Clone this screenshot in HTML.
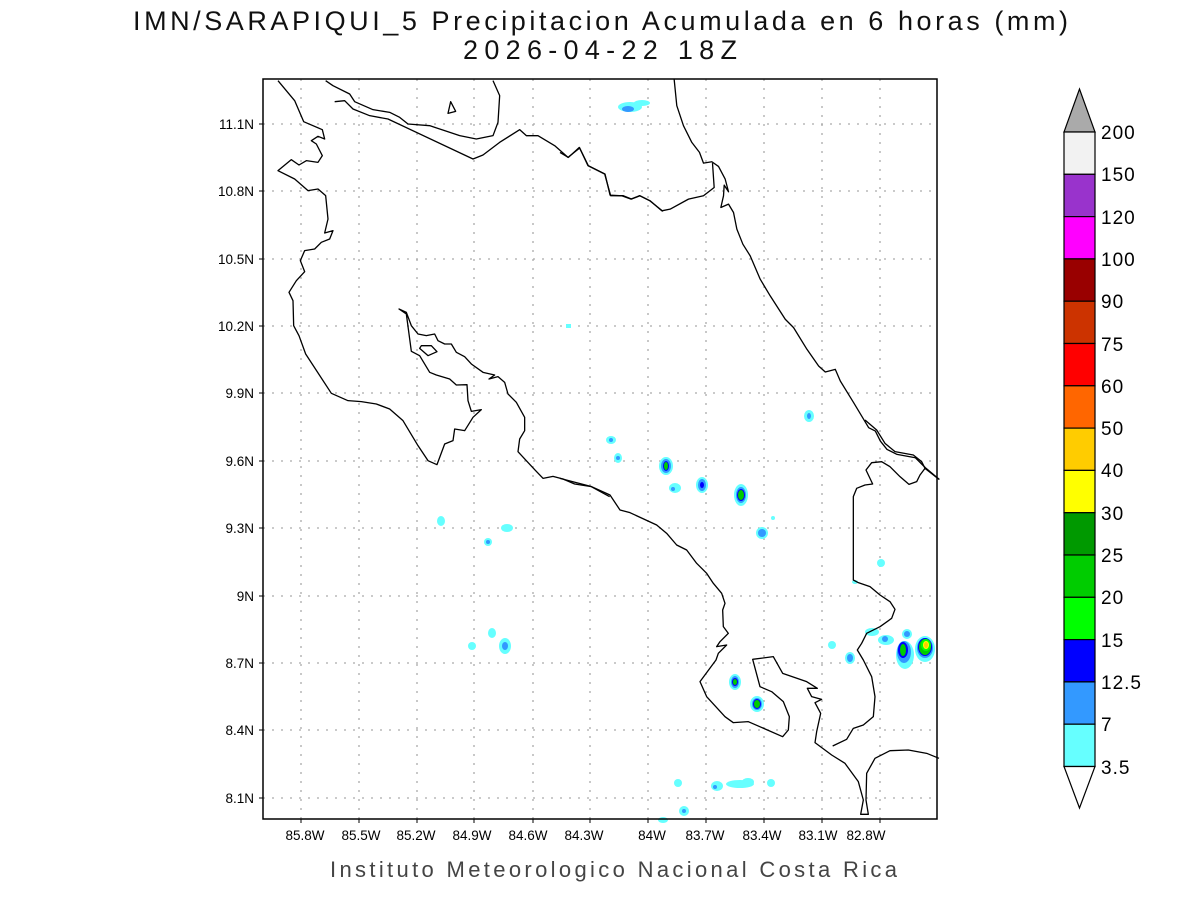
<!DOCTYPE html>
<html><head><meta charset="utf-8"><style>
html,body{margin:0;padding:0;background:#fff;}
svg{display:block;}
text{font-family:"Liberation Sans",sans-serif;}
</style></head><body>
<svg width="1200" height="900" viewBox="0 0 1200 900" xmlns="http://www.w3.org/2000/svg">
<rect width="1200" height="900" fill="#fff"/>
<text x="133" y="30" font-size="27" fill="#111" textLength="935" lengthAdjust="spacing">IMN/SARAPIQUI_5 Precipitacion Acumulada en 6 horas (mm)</text>
<text x="463" y="59" font-size="27" fill="#111" textLength="274" lengthAdjust="spacing">2026-04-22 18Z</text>

<!-- grid -->
<g stroke="#aaa" stroke-width="1.3" stroke-dasharray="2,7">
<line x1="301" y1="79" x2="301" y2="819"/><line x1="359" y1="79" x2="359" y2="819"/><line x1="417" y1="79" x2="417" y2="819"/><line x1="474" y1="79" x2="474" y2="819"/><line x1="533" y1="79" x2="533" y2="819"/><line x1="590" y1="79" x2="590" y2="819"/><line x1="648" y1="79" x2="648" y2="819"/><line x1="706" y1="79" x2="706" y2="819"/><line x1="764" y1="79" x2="764" y2="819"/><line x1="822" y1="79" x2="822" y2="819"/><line x1="880" y1="79" x2="880" y2="819"/>
<line x1="263" y1="124" x2="937" y2="124"/><line x1="263" y1="191" x2="937" y2="191"/><line x1="263" y1="259" x2="937" y2="259"/><line x1="263" y1="326" x2="937" y2="326"/><line x1="263" y1="393" x2="937" y2="393"/><line x1="263" y1="461" x2="937" y2="461"/><line x1="263" y1="528" x2="937" y2="528"/><line x1="263" y1="596" x2="937" y2="596"/><line x1="263" y1="663" x2="937" y2="663"/><line x1="263" y1="730" x2="937" y2="730"/><line x1="263" y1="798" x2="937" y2="798"/>
</g>

<!-- precipitation -->
<g>
<ellipse cx="630" cy="107" rx="12" ry="5" fill="#66ffff"/><ellipse cx="642" cy="103" rx="8" ry="3" fill="#66ffff"/><ellipse cx="628" cy="109" rx="6" ry="3" fill="#3399ff"/>
<rect x="566" y="324" width="5" height="4" fill="#66ffff"/>
<ellipse cx="611" cy="440" rx="5" ry="4" fill="#66ffff"/><ellipse cx="611" cy="440" rx="2" ry="2" fill="#3399ff"/>
<ellipse cx="618" cy="458" rx="4" ry="5" fill="#66ffff"/><ellipse cx="618" cy="458" rx="2" ry="2" fill="#3399ff"/>
<ellipse cx="666" cy="466" rx="7" ry="9" fill="#66ffff"/><ellipse cx="666" cy="466" rx="5" ry="7" fill="#3399ff"/><ellipse cx="666" cy="466" rx="3" ry="5" fill="#0000ff"/><ellipse cx="666" cy="466" rx="2" ry="4" fill="#00cc00"/>
<ellipse cx="675" cy="488" rx="6" ry="5" fill="#66ffff"/><ellipse cx="673" cy="489" rx="2" ry="2" fill="#3399ff"/>
<ellipse cx="702" cy="485" rx="6" ry="8" fill="#66ffff"/><ellipse cx="702" cy="485" rx="4" ry="6" fill="#3399ff"/><ellipse cx="702" cy="485" rx="2" ry="3" fill="#0000ff"/>
<ellipse cx="741" cy="495" rx="7" ry="11" fill="#66ffff"/><ellipse cx="741" cy="495" rx="5" ry="8" fill="#3399ff"/><ellipse cx="741" cy="495" rx="4" ry="6" fill="#0000ff"/><ellipse cx="741" cy="495" rx="3" ry="5" fill="#00cc00"/>
<ellipse cx="762" cy="533" rx="6" ry="6" fill="#66ffff"/><ellipse cx="762" cy="533" rx="4" ry="4" fill="#3399ff"/>
<ellipse cx="809" cy="416" rx="5" ry="6" fill="#66ffff"/><ellipse cx="809" cy="416" rx="2" ry="3" fill="#3399ff"/>
<ellipse cx="773" cy="518" rx="2" ry="2" fill="#66ffff"/>
<ellipse cx="441" cy="521" rx="4" ry="5" fill="#66ffff"/>
<ellipse cx="488" cy="542" rx="4" ry="4" fill="#66ffff"/><ellipse cx="488" cy="542" rx="2" ry="2" fill="#3399ff"/>
<ellipse cx="507" cy="528" rx="6" ry="4" fill="#66ffff"/>
<ellipse cx="505" cy="646" rx="6" ry="8" fill="#66ffff"/><ellipse cx="505" cy="646" rx="3" ry="4" fill="#3399ff"/>
<ellipse cx="492" cy="633" rx="4" ry="5" fill="#66ffff"/>
<ellipse cx="472" cy="646" rx="4" ry="4" fill="#66ffff"/>
<ellipse cx="735" cy="682" rx="6" ry="8" fill="#66ffff"/><ellipse cx="735" cy="682" rx="4" ry="6" fill="#3399ff"/><ellipse cx="735" cy="682" rx="3" ry="4" fill="#0000ff"/><ellipse cx="735" cy="682" rx="2" ry="3" fill="#00cc00"/>
<ellipse cx="757" cy="704" rx="7" ry="8" fill="#66ffff"/><ellipse cx="757" cy="704" rx="5" ry="6" fill="#3399ff"/><ellipse cx="757" cy="704" rx="4" ry="5" fill="#0000ff"/><ellipse cx="757" cy="704" rx="3" ry="4" fill="#00cc00"/>
<ellipse cx="832" cy="645" rx="4" ry="4" fill="#66ffff"/>
<ellipse cx="850" cy="658" rx="5" ry="6" fill="#66ffff"/><ellipse cx="850" cy="658" rx="3" ry="4" fill="#3399ff"/>
<ellipse cx="872" cy="632" rx="7" ry="4" fill="#66ffff"/>
<ellipse cx="886" cy="640" rx="8" ry="5" fill="#66ffff"/><ellipse cx="885" cy="639" rx="3" ry="3" fill="#3399ff"/>
<ellipse cx="907" cy="634" rx="5" ry="5" fill="#66ffff"/><ellipse cx="907" cy="634" rx="3" ry="3" fill="#3399ff"/>
<ellipse cx="905" cy="655" rx="9" ry="14" fill="#66ffff"/><ellipse cx="904" cy="652" rx="7" ry="11" fill="#3399ff"/><ellipse cx="903" cy="650" rx="5" ry="8" fill="#0000ff"/><ellipse cx="903" cy="650" rx="3" ry="6" fill="#00cc00"/>
<ellipse cx="925" cy="649" rx="10" ry="13" fill="#66ffff"/><ellipse cx="925" cy="648" rx="8" ry="10" fill="#3399ff"/><ellipse cx="925" cy="647" rx="7" ry="9" fill="#0000ff"/><ellipse cx="925" cy="647" rx="6" ry="8" fill="#00cc00"/><ellipse cx="926" cy="645" rx="5" ry="6" fill="#00ff00"/><ellipse cx="926" cy="645" rx="3" ry="4" fill="#ffff00"/><ellipse cx="926" cy="645" rx="2" ry="3" fill="#ffcc00"/>
<ellipse cx="881" cy="563" rx="4" ry="4" fill="#66ffff"/>
<ellipse cx="855" cy="582" rx="3" ry="2" fill="#66ffff"/>
<ellipse cx="678" cy="783" rx="4" ry="4" fill="#66ffff"/>
<ellipse cx="717" cy="786" rx="6" ry="5" fill="#66ffff"/><ellipse cx="715" cy="787" rx="2" ry="2" fill="#3399ff"/>
<ellipse cx="740" cy="784" rx="14" ry="4" fill="#66ffff"/><ellipse cx="748" cy="782" rx="6" ry="4" fill="#66ffff"/>
<ellipse cx="771" cy="783" rx="4" ry="4" fill="#66ffff"/>
<ellipse cx="684" cy="811" rx="5" ry="5" fill="#66ffff"/><ellipse cx="684" cy="811" rx="2" ry="2" fill="#3399ff"/>
<ellipse cx="663" cy="820" rx="5" ry="3" fill="#66ffff"/>
</g>

<!-- coastlines -->
<g fill="none" stroke="#000" stroke-width="1.3" stroke-linejoin="round">
<g transform="translate(263,79) scale(0.33333)">
<path vector-effect="non-scaling-stroke" d="M45,5 L95,65 L122,128 L178,152 L185,180 L165,172 L145,185 L160,195 L178,230 L165,250 L130,245 L108,258 L85,242 L45,275 L95,300 L135,335 L165,330 L188,350 L195,420 L185,462 L210,455 L200,480 L175,490 L155,510 L125,515 L112,545 L125,578 L100,605 L78,640 L90,665 L92,740 L108,770 L128,825 L205,943 L255,965 L295,968 L340,975 L380,990 L420,1025 L465,1100 L495,1145 L522,1157 L545,1095 L570,1085 L575,1050 L605,1055 L630,1015 L655,992 L625,997 L615,965 L612,917 L580,918 L560,900 L520,888 L500,880 L470,830 L445,817 L430,705 L408,690 L430,700 L445,740 L465,765 L490,770 L515,765 L525,785 L545,795 L565,795 L580,820 L605,833 L625,855 L660,880 L695,888 L678,900 L705,893 L725,910 L735,945 L760,970 L785,1015 L785,1055 L770,1080 L765,1118 L790,1145 L818,1175 L840,1198 L870,1192 L900,1200 L935,1215 L985,1223 L1040,1253"/>
<path vector-effect="non-scaling-stroke" d="M188,5 L210,20 L260,45 L275,68 L330,92 L380,100 L410,115 L435,135 L500,140 L545,155 L590,170 L640,180 L690,170 L705,130 L710,50 L690,5"/>
<path vector-effect="non-scaling-stroke" d="M215,68 L245,65 L270,90 L320,110 L375,120 L630,240 L660,228 L710,190 L770,152 L790,170 L825,170 L875,200 L915,235 L950,207 L975,260 L1025,285 L1043,350 L1080,350 L1105,360 L1130,350 L1160,365 L1200,397"/>
<path vector-effect="non-scaling-stroke" d="M555,103 L563,68 L578,97 Z"/>
<path vector-effect="non-scaling-stroke" d="M475,800 L505,800 L522,818 L495,830 L470,808 Z"/>
</g>
<g transform="translate(560,79) scale(0.3337)">
<path vector-effect="non-scaling-stroke" d="M0,220 L25,235 L58,205 L85,260 L135,285 L150,348 L185,350 L213,360 L240,350 L270,365 L305,395 L330,390 L385,360 L430,350 L462,325 L457,252"/>
<path vector-effect="non-scaling-stroke" d="M342,0 L350,80 L370,140 L395,190 L418,220 L430,252 L455,248 L475,262 L495,300 L505,338 L492,318 L490,350 L482,385 L505,375 L520,400 L530,450 L548,495 L570,530 L600,600 L630,650 L675,720 L700,745 L740,810 L775,860 L795,878 L825,870 L840,905 L880,970 L925,1045 L945,1055 L960,1085 L980,1110 L1010,1125 L1065,1135 L1095,1165 L1137,1200"/>
</g>
<g transform="translate(560,420) scale(0.33333)">
<path vector-effect="non-scaling-stroke" d="M0,175 L95,200 L150,225 L180,270 L210,278 L290,315 L320,340 L350,375 L380,390 L410,430 L440,460 L460,490 L485,520 L495,550 L488,570 L490,620 L505,640 L480,665 L470,680 L500,675 L475,700 L468,720 L420,785 L440,830 L495,890 L520,908 L565,905 L668,950 L685,930 L688,890 L670,845 L635,815 L600,800 L578,718 L640,710 L668,760 L740,785 L772,805 L742,805 L755,830 L785,838 L765,848 L782,880 L770,935 L765,968 L815,1005 L855,1030 L895,1085 L910,1140 L902,1183 L925,1183 L918,1140 L920,1060 L945,1015 L990,992 L1045,990 L1100,1000 L1137,1015"/>
<path vector-effect="non-scaling-stroke" d="M818,978 L860,958 L880,925 L910,915 L940,890 L945,830 L935,770 L910,720 L892,690 L905,670 L920,640 L960,620 L995,595 L1005,568 L990,545 L960,525 L930,500 L895,488 L880,480 L880,230 L890,205 L915,195 L938,192 L918,150 L935,128 L965,125 L990,140 L1020,170 L1047,193 L1070,185 L1080,165 L1095,145 L1137,178"/>
<path vector-effect="non-scaling-stroke" d="M915,0 L950,30 L975,70 L1005,95 L1060,105 L1085,125 L1095,145"/>
</g>
</g>

<!-- frame -->
<rect x="263" y="79" width="674" height="740" fill="none" stroke="#000" stroke-width="1.5"/>
<g stroke="#000" stroke-width="1">
<line x1="259" y1="124" x2="263" y2="124"/><line x1="259" y1="191" x2="263" y2="191"/><line x1="259" y1="259" x2="263" y2="259"/><line x1="259" y1="326" x2="263" y2="326"/><line x1="259" y1="393" x2="263" y2="393"/><line x1="259" y1="461" x2="263" y2="461"/><line x1="259" y1="528" x2="263" y2="528"/><line x1="259" y1="596" x2="263" y2="596"/><line x1="259" y1="663" x2="263" y2="663"/><line x1="259" y1="730" x2="263" y2="730"/><line x1="259" y1="798" x2="263" y2="798"/>
<line x1="301" y1="819" x2="301" y2="823"/><line x1="359" y1="819" x2="359" y2="823"/><line x1="417" y1="819" x2="417" y2="823"/><line x1="474" y1="819" x2="474" y2="823"/><line x1="533" y1="819" x2="533" y2="823"/><line x1="590" y1="819" x2="590" y2="823"/><line x1="648" y1="819" x2="648" y2="823"/><line x1="706" y1="819" x2="706" y2="823"/><line x1="764" y1="819" x2="764" y2="823"/><line x1="822" y1="819" x2="822" y2="823"/><line x1="880" y1="819" x2="880" y2="823"/>
</g>
<g font-size="13.5" fill="#000" text-anchor="end">
<text x="254" y="129">11.1N</text><text x="254" y="196">10.8N</text><text x="254" y="264">10.5N</text><text x="254" y="331">10.2N</text><text x="254" y="398">9.9N</text><text x="254" y="466">9.6N</text><text x="254" y="533">9.3N</text><text x="254" y="601">9N</text><text x="254" y="668">8.7N</text><text x="254" y="735">8.4N</text><text x="254" y="803">8.1N</text>
</g>
<g font-size="13.5" fill="#000" text-anchor="middle">
<text x="305" y="840">85.8W</text><text x="361" y="840">85.5W</text><text x="416" y="840">85.2W</text><text x="472" y="840">84.9W</text><text x="528" y="840">84.6W</text><text x="584" y="840">84.3W</text><text x="652" y="840">84W</text><text x="705" y="840">83.7W</text><text x="762" y="840">83.4W</text><text x="818" y="840">83.1W</text><text x="866" y="840">82.8W</text>
</g>
<text x="330" y="877" font-size="22" fill="#444" textLength="567" lengthAdjust="spacing">Instituto Meteorologico Nacional Costa Rica</text>

<!-- colorbar -->
<g stroke="#000" stroke-width="1.2">
<polygon points="1064,132 1095,132 1079.5,89" fill="#aaaaaa"/>
<rect x="1064" y="132" width="31" height="42.3" fill="#f2f2f2"/>
<rect x="1064" y="174.3" width="31" height="42.3" fill="#9933cc"/>
<rect x="1064" y="216.6" width="31" height="42.3" fill="#ff00ff"/>
<rect x="1064" y="258.9" width="31" height="42.3" fill="#990000"/>
<rect x="1064" y="301.2" width="31" height="42.3" fill="#cc3300"/>
<rect x="1064" y="343.5" width="31" height="42.3" fill="#ff0000"/>
<rect x="1064" y="385.8" width="31" height="42.3" fill="#ff6600"/>
<rect x="1064" y="428.1" width="31" height="42.3" fill="#ffcc00"/>
<rect x="1064" y="470.4" width="31" height="42.3" fill="#ffff00"/>
<rect x="1064" y="512.7" width="31" height="42.3" fill="#009900"/>
<rect x="1064" y="555" width="31" height="42.3" fill="#00cc00"/>
<rect x="1064" y="597.3" width="31" height="42.3" fill="#00ff00"/>
<rect x="1064" y="639.6" width="31" height="42.3" fill="#0000ff"/>
<rect x="1064" y="681.9" width="31" height="42.3" fill="#3399ff"/>
<rect x="1064" y="724.2" width="31" height="42.3" fill="#66ffff"/>
<polygon points="1064,766.5 1095,766.5 1079.5,808" fill="#fff"/>
</g>
<g font-size="19" fill="#000" letter-spacing="1">
<text x="1101" y="139">200</text><text x="1101" y="181">150</text><text x="1101" y="224">120</text><text x="1101" y="266">100</text><text x="1101" y="308">90</text><text x="1101" y="351">75</text><text x="1101" y="393">60</text><text x="1101" y="435">50</text><text x="1101" y="477">40</text><text x="1101" y="520">30</text><text x="1101" y="562">25</text><text x="1101" y="604">20</text><text x="1101" y="647">15</text><text x="1101" y="689">12.5</text><text x="1101" y="731">7</text><text x="1101" y="774">3.5</text>
</g>
</svg>
</body></html>
